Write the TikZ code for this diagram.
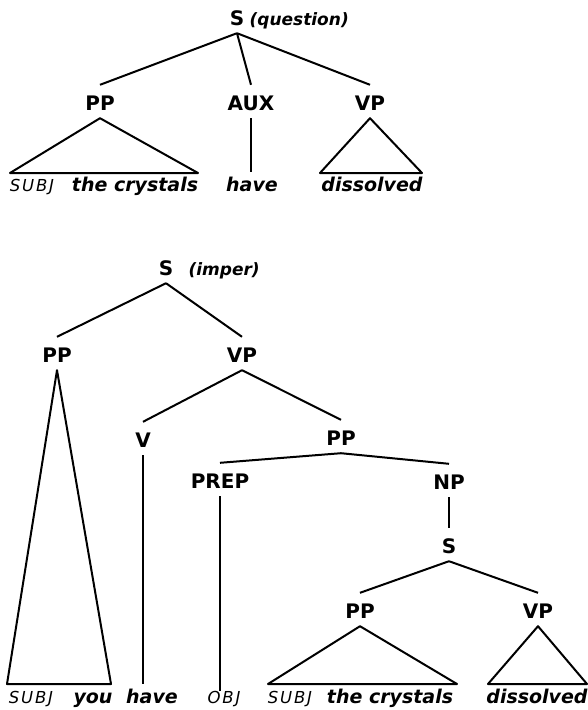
\documentclass[tikz,border=0pt]{standalone}
\usepackage{fontspec}
\usepackage{tikz}
\usetikzlibrary{calc}

\newfontfamily\treefamily{DejaVu Sans}
\newfontfamily\tagfamily[LetterSpace=11]{DejaVu Sans}

\tikzset{
  cat/.style={font=\treefamily\bfseries\fontsize{20}{20}\selectfont, inner sep=0pt, text height=25pt, text depth=8pt, anchor=base},
  word/.style={font=\treefamily\bfseries\itshape\fontsize{19}{19}\selectfont, inner sep=0pt, text height=19pt, text depth=0pt, anchor=base},
  tagword/.style={font=\tagfamily\itshape\fontsize{16.5}{16.5}\selectfont, inner sep=0pt, anchor=base},
  qual/.style={font=\treefamily\bfseries\itshape\fontsize{17}{17}\selectfont, inner sep=0pt, anchor=base west},
  branch/.style={line width=2pt, line join=round},
}

\begin{document}
\begin{tikzpicture}[x=1pt,y=1pt,yscale=-1,xscale=1]
\useasboundingbox (0,0) rectangle (588,710);

%%% upper tree: S (question)
% Text Node
\node[cat] (s1) at (237,25) {S};
\node[qual] (s1q) at ([xshift=5pt]s1.base east) {(question)};
% Text Node
\node[cat] (pp1) at (100,110) {PP};
\node[cat] (aux) at (251,110) {AUX};
\node[cat] (vp1) at (370,110) {VP};
% Text Node
\node[tagword] (subj1) at (32,191) {SUBJ};
\node[word] (crys1) at (135,191) {the crystals};
\node[word] (have1) at (252,191) {have};
\node[word] (diss1) at (372,191) {dissolved};

%Straight Lines
\draw[branch] (s1.south) -- (pp1.north);
\draw[branch] (s1.south) -- (aux.north);
\draw[branch] (s1.south) -- (vp1.north);
\draw[branch] (aux.south) -- (aux.south |- have1.north);

%Shape: Triangle
\coordinate (pp1l) at (10,173);
\coordinate (pp1r) at (198,173);
\draw[branch] (pp1.south) -- (pp1l) -- (pp1r) -- cycle;
%Shape: Triangle
\coordinate (vp1l) at (320,173);
\coordinate (vp1r) at (422,173);
\draw[branch] (vp1.south) -- (vp1l) -- (vp1r) -- cycle;

%%% lower tree: S (imper)
% Text Node
\node[cat] (s2) at (166,275) {S};
\node[qual] (s2q) at ([xshift=15pt]s2.base east) {(imper)};
% Text Node
\node[cat] (pp2) at (57,362) {PP};
\node[cat] (vp2) at (242,362) {VP};
\node[cat] (v) at (143,447) {V};
\node[cat] (pp3) at (341,445) {PP};
\node[cat] (prep) at (220,488) {PREP};
\node[cat] (np) at (449,489) {NP};
\node[cat] (s3) at (449,553) {S};
\node[cat] (pp4) at (360,618) {PP};
\node[cat] (vp4) at (538,618) {VP};
% Text Node
\node[tagword] (subj2) at (31,703) {SUBJ};
\node[word] (you) at (93,703) {you};
\node[word] (have2) at (152,703) {have};
\node[tagword] (obj) at (224,703) {OBJ};
\node[tagword] (subj3) at (290,703) {SUBJ};
\node[word] (crys2) at (390,703) {the crystals};
\node[word] (diss2) at (537,703) {dissolved};

%Straight Lines
\draw[branch] (s2.south) -- (pp2.north);
\draw[branch] (s2.south) -- (vp2.north);
\draw[branch] (vp2.south) -- (v.north);
\draw[branch] (vp2.south) -- (pp3.north);
\draw[branch] (pp3.south) -- (prep.north);
\draw[branch] (pp3.south) -- (np.north);
\draw[branch] (np.south) -- (s3.north);
\draw[branch] (s3.south) -- (pp4.north);
\draw[branch] (s3.south) -- (vp4.north);
\draw[branch] (v.south) -- (v.south |- have2.north);
\draw[branch] (prep.south) -- (prep.south |- obj.north);

%Shape: Triangle
\coordinate (pp2l) at (7,684);
\coordinate (pp2r) at (111,684);
\draw[branch] (pp2.south) -- (pp2l) -- (pp2r) -- cycle;
%Shape: Triangle
\coordinate (pp4l) at (268,684);
\coordinate (pp4r) at (457,684);
\draw[branch] (pp4.south) -- (pp4l) -- (pp4r) -- cycle;
%Shape: Triangle
\coordinate (vp4l) at (488,684);
\coordinate (vp4r) at (587,684);
\draw[branch] (vp4.south) -- (vp4l) -- (vp4r) -- cycle;

\end{tikzpicture}
\end{document}
